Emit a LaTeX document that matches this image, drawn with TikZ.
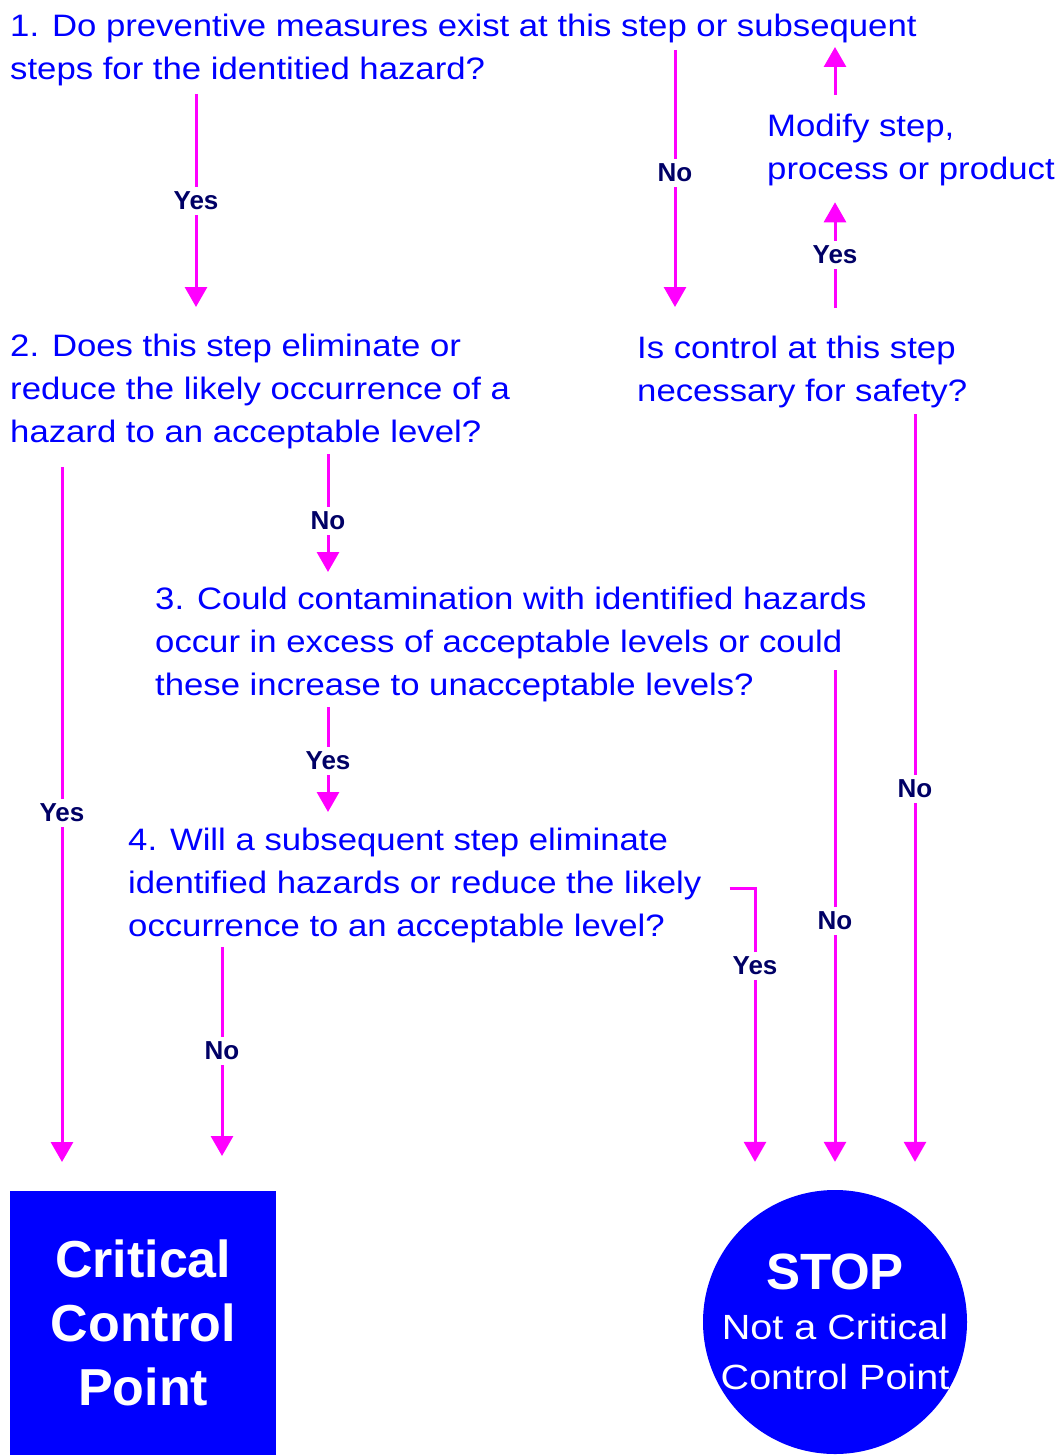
\documentclass[tikz,border=0pt]{standalone}
\usepackage{fontspec}
\setmainfont{Liberation Sans}
\newfontfamily\qfont{Liberation Sans}[FakeStretch=1.12]
\newfontfamily\cfont{Liberation Sans}[FakeStretch=1.13]
\usetikzlibrary{arrows.meta}
\definecolor{qblue}{RGB}{0,0,255}
\definecolor{lnavy}{RGB}{0,0,102}
\definecolor{amag}{RGB}{255,0,255}
\tikzset{
  question/.style={anchor=north west, inner sep=0pt, align=left, text=qblue, font=\qfont\fontsize{31}{43}\selectfont},
  arr/.style={draw=amag, line width=3pt, -{Triangle[width=22pt,length=20pt]}},
  lbl/.style={fill=white, text=lnavy, inner sep=5pt, font=\bfseries\fontsize{26}{26}\selectfont},
}
\begin{document}
\begin{tikzpicture}[x=1pt,y=-1pt]
\useasboundingbox (0,0) rectangle (1064,1455);
% questions
\node[question] (q1) at (10,14) {1. Do preventive measures exist at this step or subsequent\\steps for the identitied hazard?};
\node[question] (q2) at (10,334) {2. Does this step eliminate or\\reduce the likely occurrence of a\\hazard to an acceptable level?};
\node[question] (qc) at (637,336) {Is control at this step\\necessary for safety?};
\node[question] (qm) at (767,114) {Modify step,\\process or product};
\node[question] (q3) at (155,587) {3. Could contamination with identified hazards\\occur in excess of acceptable levels or could\\these increase to unacceptable levels?};
\node[question] (q4) at (128,828) {4. Will a subsequent step eliminate\\identified hazards or reduce the likely\\occurrence to an acceptable level?};
% outcomes
\node[rectangle, fill=qblue, anchor=north west, minimum width=266pt, minimum height=264pt, inner sep=0pt,
      text=white, align=center, font=\bfseries\fontsize{52}{64}\selectfont] (ccp) at (10,1191) {Critical\\Control\\Point};
\node[circle, fill=qblue, minimum size=264pt, inner sep=-30pt, text=white, align=center,
      font=\cfont\fontsize{35}{50}\selectfont] (stop) at (835,1322)
      {{\normalfont\bfseries\fontsize{51}{50}\selectfont STOP}\\Not a Critical\\Control Point};
% x positions of connectors
\coordinate (xa) at (196,0);
\coordinate (xb) at (675,0);
\coordinate (xc) at (835,0);
\coordinate (xd) at (328,0);
\coordinate (xe) at (62,0);
\coordinate (xf) at (915,0);
\coordinate (xg) at (222,0);
\coordinate (xh) at (755,0);
% connectors
\draw[arr, shorten <=8pt, shorten >=27pt] (q1.south -| xa) -- (q2.north -| xa);
\draw[arr, shorten <=36pt, shorten >=29pt] (q1.north -| xb) -- (qc.north -| xb);
\draw[arr, shorten <=19pt, shorten >=33pt] (qm.north -| xc) -- (q1.north -| xc);
\draw[arr, shorten <=28pt, shorten >=16pt] (qc.north -| xc) -- (qm.south -| xc);
\draw[arr, shorten <=5pt, shorten >=15pt] (q2.south -| xd) -- (q3.north -| xd);
\draw[arr, shorten <=18pt, shorten >=29pt] (q2.south -| xe) -- (ccp.north -| xe);
\draw[arr, shorten <=5pt, shorten >=16pt] (q3.south -| xd) -- (q4.north -| xd);
\draw[arr, shorten <=83pt, shorten >=28pt] (q3.north -| xc) -- (stop.north -| xc);
\draw[arr, shorten <=6pt, shorten >=28pt] (qc.south -| xf) -- (stop.north -| xf);
\draw[arr, shorten <=4pt, shorten >=35pt] (q4.south -| xg) -- (ccp.north -| xg);
\draw[arr, shorten >=28pt] ([xshift=28pt,yshift=-3pt]q4.east) -| (stop.north -| xh);
% labels
\node[lbl] (l1) at (196,201) {Yes};
\node[lbl] (l2) at (675,173) {No};
\node[lbl] (l3) at (835,255) {Yes};
\node[lbl] (l4) at (328,521) {No};
\node[lbl] (l5) at (62,813) {Yes};
\node[lbl] (l6) at (328,761) {Yes};
\node[lbl] (l7) at (835,921) {No};
\node[lbl] (l8) at (915,789) {No};
\node[lbl] (l9) at (222,1051) {No};
\node[lbl] (l10) at (755,966) {Yes};
\end{tikzpicture}
\end{document}
